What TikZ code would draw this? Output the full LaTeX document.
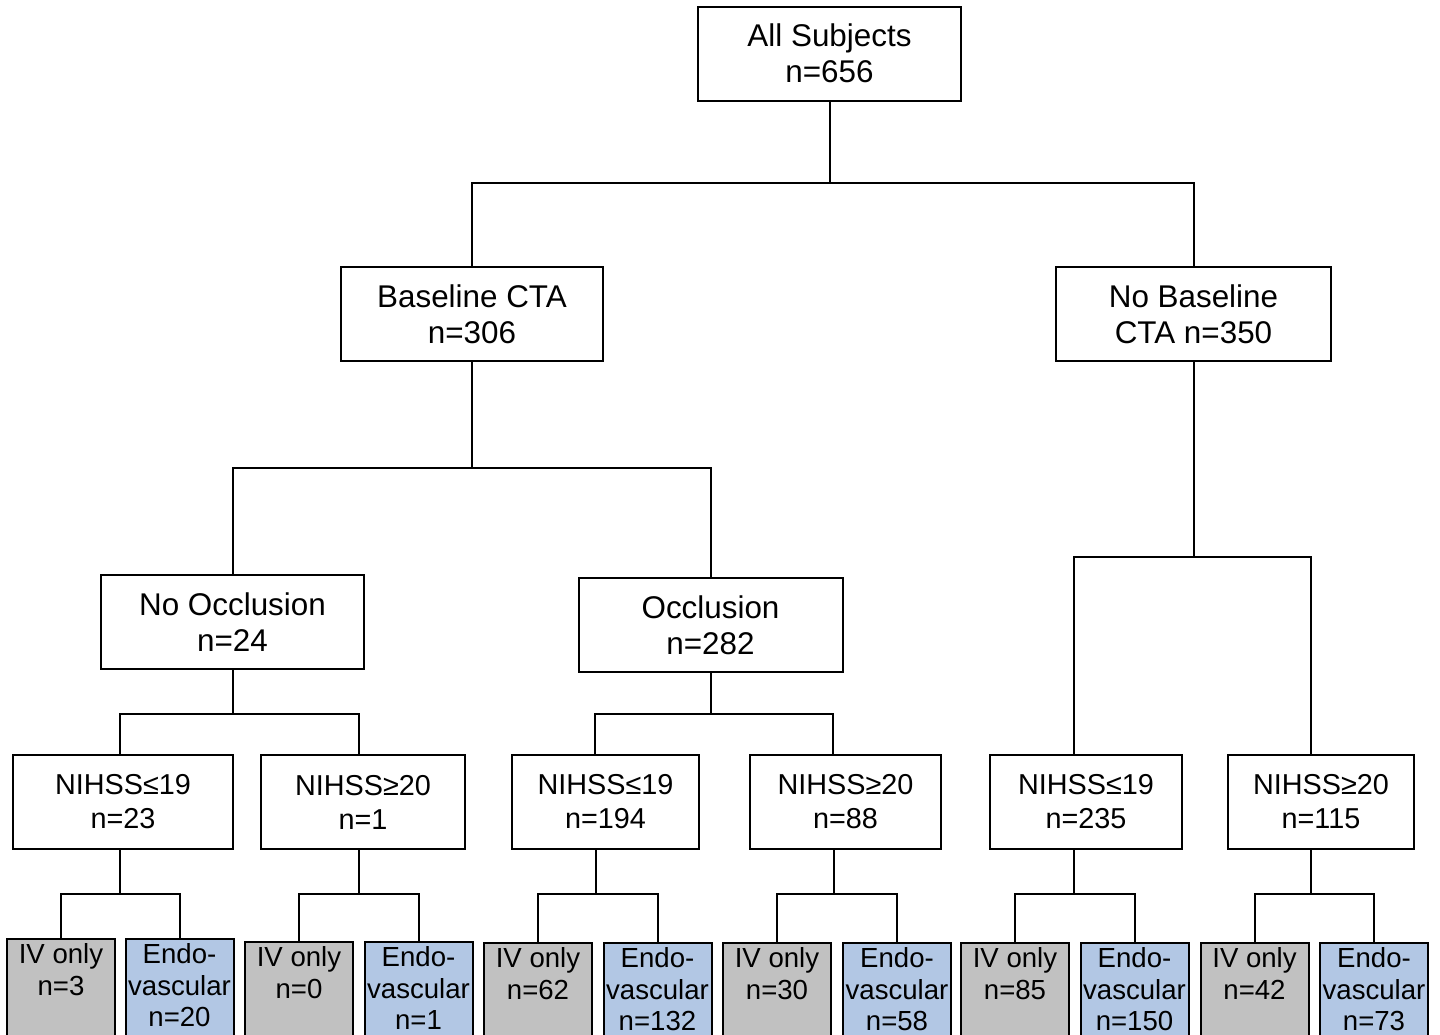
\documentclass[tikz,border=0pt]{standalone}
\usepackage{fontspec}
\setmainfont{Liberation Sans}
\definecolor{leafgray}{RGB}{193,193,193}
\definecolor{leafblue}{RGB}{178,199,228}
\tikzset{
  lvl1/.style={draw, line width=1pt, align=center, inner sep=0pt,
    minimum height=47pt, font=\fontsize{15.7}{18}\selectfont},
  lvl2/.style={draw, line width=1pt, align=center, inner sep=0pt,
    minimum height=47pt, font=\fontsize{14.4}{17}\selectfont},
  leaf/.style={draw, line width=1pt, anchor=north, inner xsep=0pt, inner ysep=1.5pt,
    font=\fontsize{13.8}{15.6}\selectfont},
  ivbox/.style={leaf, fill=leafgray},
  endobox/.style={leaf, fill=leafblue},
  conn/.style={line width=1pt},
}
\newcommand{\leaftext}[1]{\parbox[t][62pt][t]{54pt}{\centering\strut #1}}
\begin{document}
\begin{tikzpicture}[x=0.5pt,y=-0.5pt]
\useasboundingbox (0,0) rectangle (1440,1034);
\clip (0,0) rectangle (1440,1034);
\fill[white] (0,0) rectangle (1440,1034);

% level coordinates
\coordinate (h0) at (0,183);
\coordinate (h1) at (0,468);
\coordinate (h2) at (0,557);
\coordinate (h3) at (0,714);
\coordinate (h4) at (0,894);

% top nodes
\node[lvl1, minimum width=131.5pt] (all) at (829.5,53.5) {All Subjects\\n=656};
\node[lvl1, minimum width=131pt] (bcta) at (472,314) {Baseline CTA\\n=306};
\node[lvl1, minimum width=137.5pt] (nbcta) at (1193.5,314) {No Baseline\\CTA n=350};
\node[lvl1, minimum width=131.5pt] (nocc) at (232.5,622) {No Occlusion\\n=24};
\node[lvl1, minimum width=132pt] (occ) at (710.5,625) {Occlusion\\n=282};

% NIHSS nodes
\node[lvl2, minimum width=110pt] (n1) at (123,802) {NIHSS≤19\\n=23};
\node[lvl2, minimum width=102pt] (n2) at (363,802) {NIHSS≥20\\n=1};
\node[lvl2, minimum width=93.5pt] (n3) at (605.5,802) {NIHSS≤19\\n=194};
\node[lvl2, minimum width=95.5pt] (n4) at (845.5,802) {NIHSS≥20\\n=88};
\node[lvl2, minimum width=96pt] (n5) at (1086,802) {NIHSS≤19\\n=235};
\node[lvl2, minimum width=93pt] (n6) at (1321,802) {NIHSS≥20\\n=115};

% leaf nodes
\node[ivbox] (l1a) at (61,938) {\leaftext{IV only\\n=3}};
\node[endobox] (l1b) at (179.5,938) {\leaftext{Endo-\\vascular\\n=20}};
\node[ivbox] (l2a) at (299,941) {\leaftext{IV only\\n=0}};
\node[endobox] (l2b) at (418.5,941) {\leaftext{Endo-\\vascular\\n=1}};
\node[ivbox] (l3a) at (538,942) {\leaftext{IV only\\n=62}};
\node[endobox] (l3b) at (657.5,942) {\leaftext{Endo-\\vascular\\n=132}};
\node[ivbox] (l4a) at (777,942) {\leaftext{IV only\\n=30}};
\node[endobox] (l4b) at (897,942) {\leaftext{Endo-\\vascular\\n=58}};
\node[ivbox] (l5a) at (1015,942) {\leaftext{IV only\\n=85}};
\node[endobox] (l5b) at (1134.5,942) {\leaftext{Endo-\\vascular\\n=150}};
\node[ivbox] (l6a) at (1254.5,942) {\leaftext{IV only\\n=42}};
\node[endobox] (l6b) at (1374,942) {\leaftext{Endo-\\vascular\\n=73}};

% connectors level 0
\draw[conn] (all.south) -- (all.south |- h0);
\draw[conn] (bcta.north) -- (bcta.north |- h0) -- (nbcta.north |- h0) -- (nbcta.north);
% level 1
\draw[conn] (bcta.south) -- (bcta.south |- h1);
\draw[conn] (nocc.north) -- (nocc.north |- h1) -- (occ.north |- h1) -- (occ.north);
\draw[conn] (nbcta.south) -- (nbcta.south |- h2);
\draw[conn] ([xshift=-6pt]n5.north) -- ([xshift=-6pt]n5.north |- h2) -- ([xshift=-5pt]n6.north |- h2) -- ([xshift=-5pt]n6.north);
% level 2
\draw[conn] (nocc.south) -- (nocc.south |- h3);
\draw[conn] ([xshift=-1.5pt]n1.north) -- ([xshift=-1.5pt]n1.north |- h3) -- ([xshift=-2pt]n2.north |- h3) -- ([xshift=-2pt]n2.north);
\draw[conn] (occ.south) -- (occ.south |- h3);
\draw[conn] ([xshift=-5.25pt]n3.north) -- ([xshift=-5.25pt]n3.north |- h3) -- ([xshift=-6.25pt]n4.north |- h3) -- ([xshift=-6.25pt]n4.north);
% level 3
\draw[conn] ([xshift=-1.5pt]n1.south) -- ([xshift=-1.5pt]n1.south |- h4);
\draw[conn] (l1a.north) -- (l1a.north |- h4) -- (l1b.north |- h4) -- (l1b.north);
\draw[conn] ([xshift=-2pt]n2.south) -- ([xshift=-2pt]n2.south |- h4);
\draw[conn] (l2a.north) -- (l2a.north |- h4) -- (l2b.north |- h4) -- (l2b.north);
\draw[conn] ([xshift=-4.75pt]n3.south) -- ([xshift=-4.75pt]n3.south |- h4);
\draw[conn] (l3a.north) -- (l3a.north |- h4) -- (l3b.north |- h4) -- (l3b.north);
\draw[conn] ([xshift=-5.75pt]n4.south) -- ([xshift=-5.75pt]n4.south |- h4);
\draw[conn] (l4a.north) -- (l4a.north |- h4) -- (l4b.north |- h4) -- (l4b.north);
\draw[conn] ([xshift=-6pt]n5.south) -- ([xshift=-6pt]n5.south |- h4);
\draw[conn] (l5a.north) -- (l5a.north |- h4) -- (l5b.north |- h4) -- (l5b.north);
\draw[conn] ([xshift=-5pt]n6.south) -- ([xshift=-5pt]n6.south |- h4);
\draw[conn] (l6a.north) -- (l6a.north |- h4) -- (l6b.north |- h4) -- (l6b.north);
\end{tikzpicture}
\end{document}
